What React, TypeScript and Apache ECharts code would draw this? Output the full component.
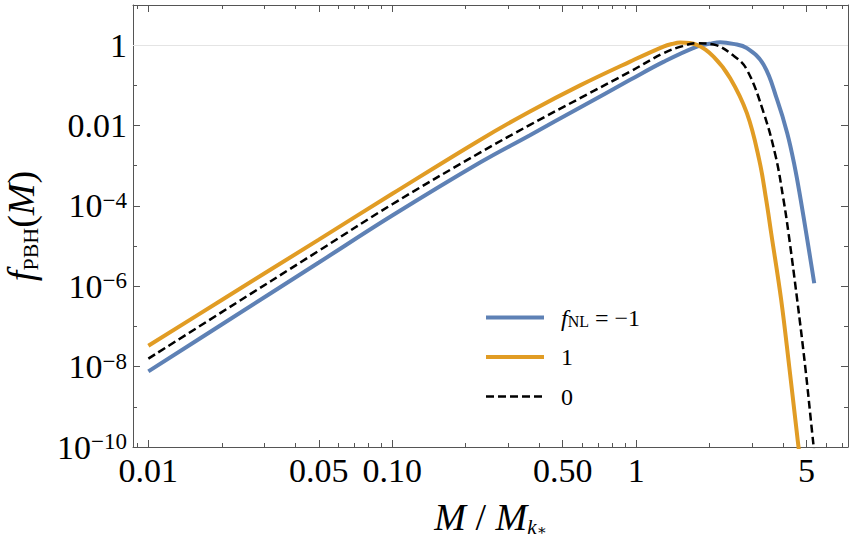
import React, { useEffect, useRef } from 'react';
import * as echarts from 'echarts';

const FONT = "'Liberation Serif', 'DejaVu Serif', serif";
const AXIS_COLOR = '#555555';

// Axis ranges and ticks
const X_MIN = 0.00865;
const X_MAX = 7.39;
const Y_MIN = 1e-10;
const Y_MAX = 10;
const xMajorTicks = [0.01, 0.05, 0.1, 0.5, 1, 5];
const xMajorLabels = ['0.01', '0.05', '0.10', '0.50', '1', '5'];
const xMinorTicks = [0.009, 0.02, 0.03, 0.04, 0.06, 0.07, 0.08, 0.09, 0.2, 0.3, 0.4, 0.6, 0.7, 0.8, 0.9, 2, 3, 4, 6, 7];
const yMajorTicks = [1e-10, 1e-8, 1e-6, 1e-4, 1e-2, 1];
const yMinorTicks = [1e-9, 1e-7, 1e-5, 1e-3, 1e-1];

// Series
const seriesNames = ['fNL = -1', '1', '0'];
const seriesColors = ['#5E81B5', '#E19C24', '#000000'];

// f_NL = -1 (blue)
const massBlue = [0.01, 0.02, 0.05, 0.1, 0.229, 0.367, 0.589, 0.945, 1.294, 1.774, 2.0, 2.211, 2.5, 2.845, 3.327, 3.787, 4.164, 4.468, 4.729, 4.982, 5.212, 5.372];
const fBlue = [7.6e-9, 1.12e-7, 3.9e-6, 5.75e-5, 1.2e-3, 5.75e-3, 0.0282, 0.137, 0.384, 0.923, 1.08, 1.19, 1.08, 0.842, 0.33, 0.0435, 6.45e-3, 9.5e-4, 1.41e-4, 2.09e-5, 3.8e-6, 1.19e-6];

// f_NL = 1 (orange)
const massOrange = [0.01, 0.02, 0.05, 0.1, 0.229, 0.367, 0.589, 0.945, 1.294, 1.4, 1.515, 1.774, 2.076, 2.43, 2.845, 3.196, 3.414, 3.579, 3.933, 4.243, 4.562, 4.632, 4.707];
const fOrange = [3.3e-8, 4.55e-7, 1.45e-5, 2.0e-4, 4.39e-3, 0.0224, 0.1, 0.391, 0.923, 1.07, 1.16, 1.017, 0.52, 0.151, 0.0203, 1.4e-3, 1.41e-4, 2.09e-5, 4.57e-7, 1.0e-8, 2.19e-10, 1.0e-10, 4.8e-11];

// f_NL = 0 (black dashed)
const massBlack = [0.01, 0.02, 0.05, 0.1, 0.229, 0.367, 0.589, 0.945, 1.294, 1.55, 1.774, 2.076, 2.506, 2.845, 3.327, 3.735, 4.009, 4.215, 4.575, 4.934, 5.272, 5.346, 5.424];
const fBlack = [1.58e-8, 2.27e-7, 7.66e-6, 1.1e-4, 2.12e-3, 0.0104, 0.048, 0.22, 0.632, 0.95, 1.12, 1.04, 0.55, 0.245, 0.0215, 1.69e-3, 1.58e-4, 2.09e-5, 4.57e-7, 1.0e-8, 2.19e-10, 1.0e-10, 4.8e-11];

const nudge = (arr: number[]) => arr.map((v) => v * (1 + 1e-9));

function xLabel(v: number): string {
  const i = xMajorTicks.findIndex((t) => Math.abs(v - t) / t < 1e-4);
  return i >= 0 ? xMajorLabels[i] : '';
}

function yLabel(v: number): string {
  const e = Math.round(Math.log10(v));
  if (e === 0) return '{b|1}';
  if (e === -2) return '{b|0.01}';
  return '{b|10}{s|\u2212' + -e + '}';
}

const tickStyle = { color: AXIS_COLOR, width: 1 };

function xAxisDef(position: 'top' | 'bottom', ticks: number[], len: number, line: boolean, labels: boolean, extra: any = {}) {
  return {
    type: 'log',
    logBase: 10,
    min: X_MIN,
    max: X_MAX,
    position,
    axisLine: { show: line, onZero: false, lineStyle: { color: AXIS_COLOR, width: 1 } },
    axisTick: { show: true, inside: true, length: len, customValues: ticks, lineStyle: tickStyle },
    axisLabel: labels
      ? { show: true, customValues: ticks, formatter: xLabel, margin: 6, fontSize: 34, fontFamily: FONT, color: '#000' }
      : { show: false },
    splitLine: { show: false },
    minorTick: { show: false },
    minorSplitLine: { show: false },
    ...extra,
  };
}

function yAxisDef(position: 'left' | 'right', ticks: number[], len: number, line: boolean, labels: boolean, extra: any = {}) {
  return {
    type: 'log',
    logBase: 10,
    min: Y_MIN,
    max: Y_MAX,
    position,
    axisLine: { show: line, onZero: false, lineStyle: { color: AXIS_COLOR, width: 1 } },
    axisTick: { show: true, inside: true, length: len, customValues: ticks, lineStyle: tickStyle },
    axisLabel: labels
      ? {
          show: true,
          customValues: ticks,
          formatter: yLabel,
          margin: 6,
          fontFamily: FONT,
          color: '#000',
          rich: {
            b: { fontSize: 34, lineHeight: 34, fontFamily: FONT, color: '#000' },
            s: { fontSize: 23, lineHeight: 19, verticalAlign: 'top', fontFamily: FONT, color: '#000' },
          },
        }
      : { show: false },
    splitLine: { show: false },
    minorTick: { show: false },
    minorSplitLine: { show: false },
    ...extra,
  };
}

function legendLabel(name: string): string {
  if (name === seriesNames[0]) return '{i|f}{s|NL}{t| = \u22121}';
  return '{t|' + name + '}';
}

export default function App() {
  const ref = useRef<HTMLDivElement>(null);

  useEffect(() => {
    if (!ref.current) return;
    const chart = echarts.init(ref.current, null, { renderer: 'svg' });

    const masses = [massBlue, massOrange, massBlack];
    const values = [fBlue, fOrange, fBlack];

    const series: any[] = seriesNames.map((name, k) => ({
      name,
      type: 'line',
      xAxisIndex: 0,
      yAxisIndex: 0,
      data: masses[k].map((m, i) => [m, values[k][i]]),
      symbol: 'none',
      showSymbol: false,
      smooth: 0.4,
      clip: true,
      z: 3 + k,
      lineStyle: {
        color: seriesColors[k],
        width: k === 2 ? 2.5 : 4,
        type: k === 2 ? [8, 4] : 'solid',
      },
      itemStyle: { color: seriesColors[k] },
    }));

    series[0].markLine = {
      silent: true,
      symbol: ['none', 'none'],
      label: { show: false },
      lineStyle: { color: '#e4e4e4', width: 1, type: 'solid' },
      data: [{ yAxis: 1 }],
      z: 1,
    };

    chart.setOption({
      animation: false,
      backgroundColor: '#ffffff',
      grid: { left: 133, right: 7, top: 5, bottom: 98, containLabel: false, outerBoundsMode: 'none' },
      xAxis: [
        xAxisDef('bottom', xMajorTicks, 7, true, true, {
          name: '{i|M}{n| / }{i|M}{k|k}{st|\u2217}',
          nameLocation: 'middle',
          nameGap: 50,
          nameMoveOverlap: false,
          nameTextStyle: {
            rich: {
              i: { fontSize: 38, lineHeight: 40, fontStyle: 'italic', fontFamily: FONT, color: '#000' },
              n: { fontSize: 38, lineHeight: 40, fontFamily: FONT, color: '#000' },
              k: { fontSize: 21, lineHeight: 21, fontStyle: 'italic', verticalAlign: 'bottom', fontFamily: FONT, color: '#000' },
              st: { fontSize: 15, lineHeight: 6, verticalAlign: 'bottom', fontFamily: FONT, color: '#000' },
            },
          },
        }),
        xAxisDef('bottom', xMinorTicks, 4, false, false),
        xAxisDef('top', xMajorTicks, 7, true, false),
        xAxisDef('top', xMinorTicks, 4, false, false),
      ],
      yAxis: [
        yAxisDef('left', nudge(yMajorTicks), 7, true, true, {
          name: '{i|f}{s|PBH}{n|(}{i|M}{n|)}',
          nameLocation: 'middle',
          nameRotate: 90,
          nameGap: 92,
          nameMoveOverlap: false,
          nameTextStyle: {
            rich: {
              i: { fontSize: 38, lineHeight: 40, fontStyle: 'italic', fontFamily: FONT, color: '#000' },
              n: { fontSize: 38, lineHeight: 40, fontFamily: FONT, color: '#000' },
              s: { fontSize: 22, lineHeight: 21, verticalAlign: 'bottom', fontFamily: FONT, color: '#000' },
            },
          },
        }),
        yAxisDef('left', nudge(yMinorTicks), 4, false, false),
        yAxisDef('right', nudge(yMajorTicks), 7, true, false),
        yAxisDef('right', nudge(yMinorTicks), 4, false, false),
      ],
      legend: {
        show: true,
        orient: 'vertical',
        left: 484,
        top: 305.5,
        padding: 0,
        itemWidth: 58,
        itemHeight: 24,
        itemGap: 15.5,
        selectedMode: false,
        data: seriesNames,
        formatter: legendLabel,
        itemStyle: { opacity: 0 },
        lineStyle: { width: 'inherit' },
        textStyle: {
          fontFamily: FONT,
          fontSize: 24,
          color: '#000',
          padding: [0, 0, 0, 12],
          rich: {
            t: { fontSize: 24, lineHeight: 24, fontFamily: FONT, color: '#000' },
            i: { fontSize: 24, lineHeight: 24, fontStyle: 'italic', fontFamily: FONT, color: '#000' },
            s: { fontSize: 16, lineHeight: 14, verticalAlign: 'bottom', fontFamily: FONT, color: '#000' },
          },
        },
      },
      series,
    });

    return () => chart.dispose();
  }, []);

  return (
    <div
      ref={ref}
      style={{ position: 'absolute', left: 0, top: 0, width: 855, height: 545, background: '#fff' }}
    />
  );
}
